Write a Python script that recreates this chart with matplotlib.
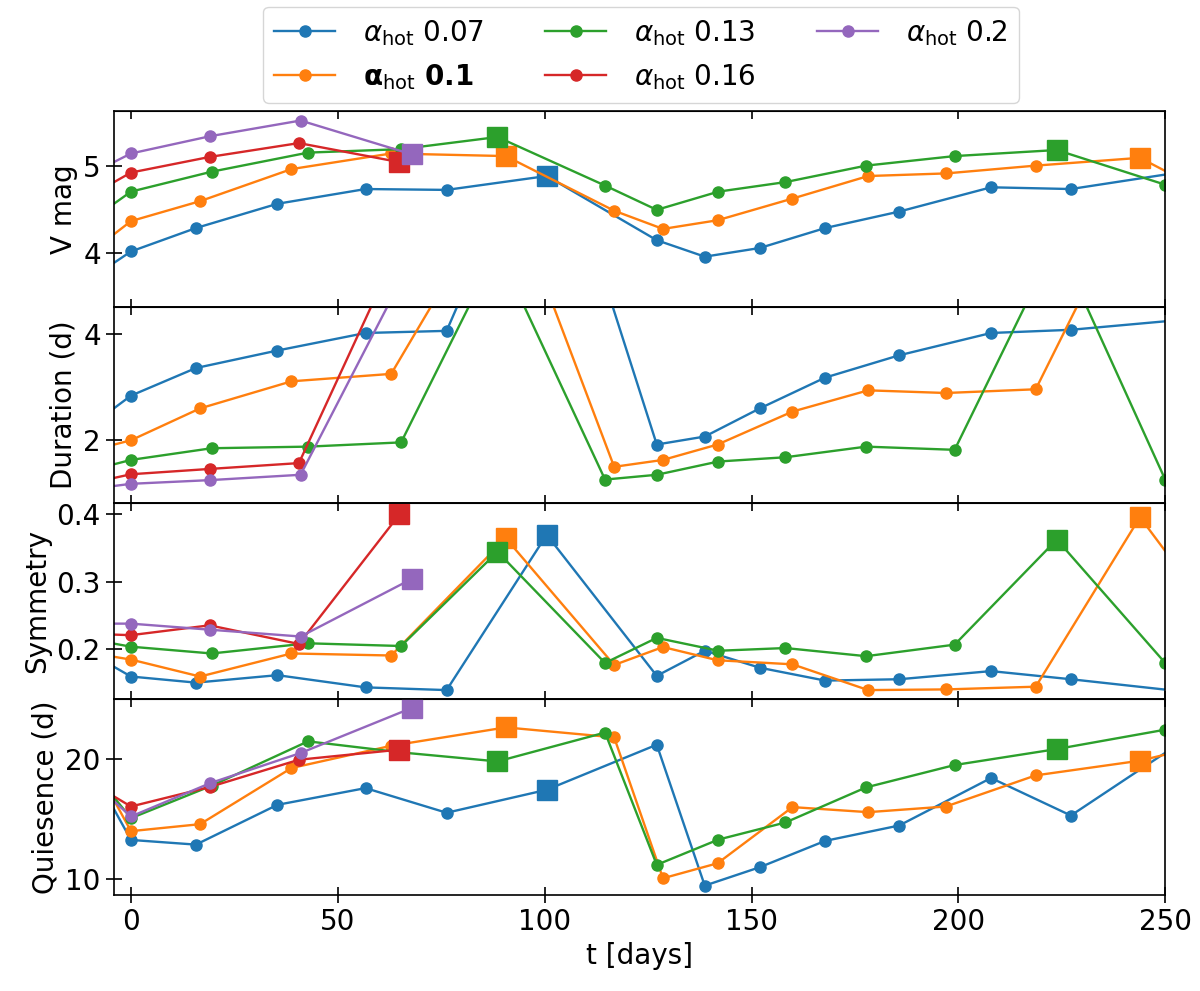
import matplotlib
matplotlib.use('Agg')
import matplotlib.pyplot as plt
import numpy as np

plt.rcParams['font.size'] = 20

labels = [r'$\alpha_{\rm hot}$ 0.07', r'$\mathbf{\alpha}_{\rm hot}$ 0.1', r'$\alpha_{\rm hot}$ 0.13',
          r'$\alpha_{\rm hot}$ 0.16', r'$\alpha_{\rm hot}$ 0.2']
colors = ['tab:blue', 'tab:orange', 'tab:green', 'tab:red', 'tab:purple']

# alpha_hot = 0.07
t_007 = [-10, 0, 15.7, 35.4, 56.7, 76.3, 100.5, 127.1, 138.7, 152.0, 167.8, 185.7, 207.9, 227.2, 260]
v_007 = [3.70, 4.02, 4.29, 4.57, 4.74, 4.73, 4.89, 4.15, 3.96, 4.06, 4.29, 4.48, 4.76, 4.74, 4.98]
d_007 = [2.26, 2.84, 3.36, 3.69, 4.02, 4.06, 8.4, 1.92, 2.07, 2.60, 3.18, 3.60, 4.02, 4.08, 4.31]
s_007 = [0.195, 0.160, 0.151, 0.162, 0.144, 0.140, 0.369, 0.161, 0.198, 0.173, 0.154, 0.156, 0.168, 0.156, 0.134]
q_007 = [19.5, 13.27, 12.88, 16.19, 17.58, 15.53, 17.44, 21.19, 9.47, 11.0, 13.19, 14.47, 18.42, 15.3, 22.8]
sq_007 = [6]

# alpha_hot = 0.1
t_01 = [-10, 0, 16.7, 38.8, 62.9, 90.6, 116.8, 128.6, 141.8, 159.9, 178.2, 197.0, 218.7, 243.9, 262]
v_01 = [4.00, 4.37, 4.60, 4.97, 5.15, 5.12, 4.49, 4.28, 4.38, 4.63, 4.89, 4.92, 5.01, 5.10, 4.65]
d_01 = [1.80, 2.00, 2.60, 3.11, 3.25, 6.9, 1.50, 1.63, 1.92, 2.54, 2.94, 2.89, 2.96, 6.9, 1.5]
s_01 = [0.195, 0.185, 0.160, 0.194, 0.191, 0.364, 0.177, 0.2035, 0.184, 0.178, 0.140, 0.141, 0.145, 0.395, 0.247]
q_01 = [20.3, 14.0, 14.58, 19.25, 21.1, 22.63, 21.8, 10.08, 11.33, 16.0, 15.58, 16.05, 18.64, 19.86, 21.36]
sq_01 = [5, 13]

# alpha_hot = 0.13
t_013 = [-10, 0, 19.5, 42.8, 65.3, 88.6, 114.6, 127.1, 142.0, 158.2, 177.7, 199.1, 223.8, 250.0]
v_013 = [4.37, 4.71, 4.94, 5.16, 5.20, 5.34, 4.78, 4.50, 4.71, 4.82, 5.01, 5.12, 5.19, 4.79]
d_013 = [1.43, 1.63, 1.85, 1.88, 1.96, 5.6, 1.26, 1.35, 1.60, 1.68, 1.88, 1.82, 5.75, 1.26]
s_013 = [0.215, 0.204, 0.194, 0.209, 0.205, 0.344, 0.180, 0.217, 0.198, 0.202, 0.190, 0.207, 0.362, 0.180]
q_013 = [19.3, 15.08, 17.78, 21.47, 20.55, 19.8, 22.2, 11.2, 13.3, 14.72, 17.64, 19.5, 20.83, 22.44]
sq_013 = [5, 12]

# alpha_hot = 0.16
t_016 = [-10, 0, 19.0, 40.6, 64.9]
v_016 = [4.66, 4.93, 5.11, 5.27, 5.05]
d_016 = [1.19, 1.36, 1.46, 1.57, 5.67]
s_016 = [0.223, 0.221, 0.2355, 0.208, 0.399]
q_016 = [18.1, 16.05, 17.67, 19.94, 20.78]
sq_016 = [4]

# alpha_hot = 0.2
t_02 = [-10, 0, 19.2, 41.0, 67.9]
v_02 = [4.91, 5.15, 5.35, 5.53, 5.14]
d_02 = [1.08, 1.18, 1.25, 1.35, 5.41]
s_02 = [0.238, 0.238, 0.229, 0.219, 0.304]
q_02 = [18.3, 15.22, 18.0, 20.5, 24.25]
sq_02 = [4]

times = [t_007, t_01, t_013, t_016, t_02]
vmag = [v_007, v_01, v_013, v_016, v_02]
dur = [d_007, d_01, d_013, d_016, d_02]
sym = [s_007, s_01, s_013, s_016, s_02]
quies = [q_007, q_01, q_013, q_016, q_02]
squares = [sq_007, sq_01, sq_013, sq_016, sq_02]

ylabels = ['V mag', 'Duration (d)', 'Symmetry', 'Quiesence (d)']
ylims = [(3.38, 5.64), (0.82, 4.51), (0.127, 0.416), (8.7, 25.0)]
yticks = [[4, 5], [2, 4], [0.2, 0.3, 0.4], [10, 20]]

fig, axes = plt.subplots(4, 1, sharex=True, figsize=(12, 9.91), dpi=100)
fig.subplots_adjust(left=0.095, right=0.971, top=0.888, bottom=0.097, hspace=0)

for ax, data, ylab, yl, yt in zip(axes, [vmag, dur, sym, quies], ylabels, ylims, yticks):
    for i in range(5):
        t = np.array(times[i])
        y = np.array(data[i])
        ax.plot(t, y, '-o', color=colors[i], lw=1.7, ms=8, label=labels[i])
        sq = squares[i]
        ax.plot(t[sq], y[sq], 's', color=colors[i], ms=14)
    ax.set_ylabel(ylab)
    ax.set_ylim(*yl)
    ax.set_yticks(yt)
    ax.tick_params(axis='both', direction='inout', length=12, width=1.2)
    for sp in ax.spines.values():
        sp.set_linewidth(1.2)
    sec = ax.secondary_xaxis('top')
    sec.tick_params(axis='x', direction='in', length=6, width=1.2, labeltop=False)

axes[-1].set_xlim(-4.1, 250)
axes[-1].set_xticks([0, 50, 100, 150, 200, 250])
axes[-1].set_xlabel('t [days]')

handles, labs = axes[0].get_legend_handles_labels()
leg = fig.legend(handles, labs, loc='upper center', bbox_to_anchor=(0.534, 0.993),
                 ncol=3, borderaxespad=0, handletextpad=1.0, columnspacing=2.2,
                 handlelength=2.2)
leg.get_texts()[1].set_fontweight('bold')

plt.savefig('out.png', dpi=100)
